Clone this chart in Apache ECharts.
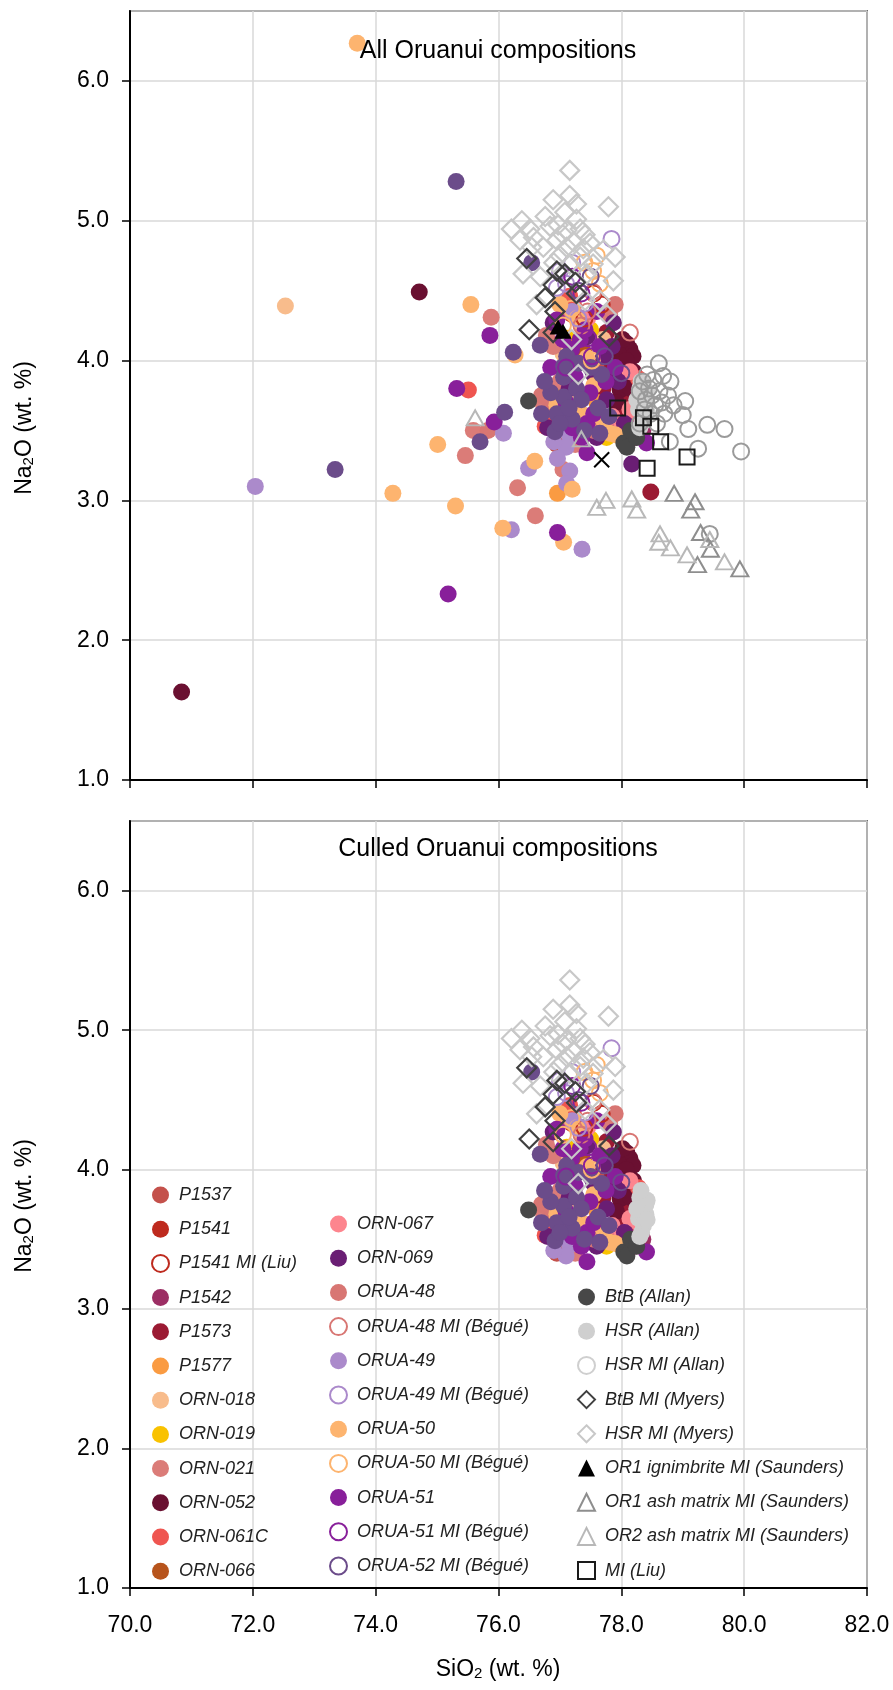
<!DOCTYPE html>
<html><head><meta charset="utf-8">
<script src="https://cdn.jsdelivr.net/npm/echarts@6/dist/echarts.min.js"></script>
<style>html,body{margin:0;padding:0;background:#fff}#c{width:893px;height:1690px}</style>
</head><body><div id="c"></div>
<script>
// ---------- data: [SiO2, Na2O] ; *_core appear in both panels, *_out only in the "All" panel ----------
const P1537_core = [[76.85,4.12],[77.60,3.95],[76.95,3.40],[77.35,4.10]];
const P1541_core = [[77.20,4.33],[77.05,3.60],[78.00,3.75]];
const P1541MI_core = [[77.55,4.48],[77.40,4.30],[77.68,4.40]];
const P1542_core = [[78.17,3.53],[78.30,3.58],[78.05,3.62],[78.22,3.45],[77.92,3.55],[78.35,3.50]];
const P1573_core = [[77.76,4.20],[77.98,4.03],[77.95,3.66],[78.10,3.70],[77.85,3.95],[78.25,3.75],[77.70,3.80]];
const P1573_out = [[78.48,3.06]];
const P1577_core = [[77.35,3.60],[77.60,3.70]];
const P1577_out = [[76.96,3.05]];
const ORN018_core = [[77.25,3.75],[77.70,4.15],[77.05,4.05]];
const ORN018_out = [[72.53,4.39]];
const ORN019_core = [[77.11,4.16],[77.33,4.00],[77.76,3.45],[77.95,3.47],[76.95,3.78],[77.50,4.22]];
const ORN021_core = [[76.78,4.18],[76.89,4.10],[76.73,3.69],[77.81,4.33],[77.25,3.40],[77.00,3.85]];
const ORN021_out = [[75.88,4.31],[75.46,3.32],[75.59,3.50],[76.31,3.09],[76.60,2.89],[77.05,3.22]];
const ORN052_core = [[78.09,4.12],[78.14,4.08],[78.19,4.03],[77.98,3.79],[78.05,3.95],[78.12,3.88],[77.95,4.05],[78.20,3.92],[78.08,4.00],[77.90,3.90],[78.15,3.80],[78.02,4.15],[77.92,3.70],[77.80,4.08]];
const ORN052_out = [[74.71,4.49],[70.84,1.63]];
const ORN061C_core = [[77.16,4.46],[76.76,3.53],[78.28,3.87],[77.22,4.40],[76.80,3.57],[78.32,3.60],[77.08,4.36]];
const ORN061C_out = [[75.51,3.79]];
const ORN066_core = [[77.40,4.05],[77.15,3.50]];
const ORN067_core = [[78.14,3.92],[78.14,3.65],[78.28,3.62],[77.85,3.60],[77.45,4.30],[77.70,3.50],[78.00,3.52]];
const ORN069_core = [[76.89,4.27],[77.44,4.17],[77.87,4.27],[77.71,4.03],[77.76,3.72],[77.55,3.90],[77.30,3.62],[77.95,3.85],[77.15,3.80],[77.60,3.45],[78.05,3.55],[77.85,4.10],[77.20,3.95],[76.80,3.52]];
const ORN069_out = [[78.17,3.26]];
const ORUA48_core = [[76.82,3.65],[77.55,3.50],[76.70,3.75],[77.90,4.40]];
const ORUA48_out = [[75.83,3.50]];
const ORUA48MI_core = [[77.54,4.49],[78.14,4.20],[77.45,4.35],[77.35,4.25]];
const ORUA49_core = [[77.16,3.46],[77.10,3.38],[76.90,3.42],[77.05,3.55],[77.30,3.50],[77.20,4.35]];
const ORUA49_out = [[72.04,3.10],[76.08,3.48],[76.49,3.23],[76.96,3.30],[77.16,3.21],[77.11,3.12],[76.21,2.79],[77.36,2.65]];
const ORUA49MI_core = [[77.84,4.87],[77.00,4.64],[77.41,4.41],[77.10,4.55],[77.30,4.30],[77.20,4.70],[76.95,4.52]];
const ORUA50_core = [[77.38,4.24],[77.44,4.02],[77.35,3.62],[77.90,3.47],[77.81,3.48],[77.00,4.40],[77.15,3.58],[76.95,3.68],[77.55,3.82],[77.28,4.30],[77.70,3.58]];
const ORUA50_out = [[73.70,6.27],[75.55,4.40],[75.01,3.40],[74.28,3.05],[75.30,2.96],[76.07,2.80],[77.06,2.70],[76.59,3.28],[77.20,3.08],[76.27,4.04]];
const ORUA50MI_core = [[77.54,4.64],[77.19,4.37],[77.52,4.00],[77.60,4.75],[77.05,4.25],[77.65,4.55],[77.40,4.70]];
const ORUA51_core = [[76.95,4.29],[77.33,4.15],[77.19,4.08],[77.65,4.10],[77.49,3.77],[77.44,3.55],[77.44,3.34],[78.41,3.41],[77.25,3.88],[77.10,3.70],[77.55,3.62],[76.85,3.95],[77.35,3.45],[77.75,3.85],[77.05,4.15],[77.60,4.35],[77.20,3.52],[77.90,3.95],[77.41,4.22]];
const ORUA51_out = [[75.86,4.18],[75.32,3.80],[75.93,3.56],[75.18,2.33],[76.96,2.77]];
const ORUA51MI_core = [[77.46,4.16],[77.52,4.03],[77.35,4.48],[77.20,4.60],[77.10,3.95]];
const ORUA52_core = [[76.70,3.62],[76.68,4.11],[76.92,3.49],[76.95,3.62],[77.06,3.74],[77.27,3.80],[77.06,3.88],[77.68,3.90],[77.62,3.66],[77.65,3.48],[77.11,4.03],[77.06,3.96],[77.20,3.58],[77.35,3.72],[76.85,3.77],[77.00,3.55],[77.50,3.95],[77.30,3.98],[76.75,3.85],[77.15,3.66],[77.80,3.60],[76.54,4.70],[77.40,3.50]];
const ORUA52_out = [[75.31,5.28],[73.34,3.22],[76.24,4.06],[76.10,3.63],[75.70,3.42]];
const ORUA52MI_core = [[77.73,4.03],[78.00,3.91],[77.30,4.50],[77.50,4.60]];
const BtBAllan_core = [[76.49,3.71],[78.04,3.41],[78.09,3.38],[78.15,3.50],[78.25,3.45]];
const HSRAllan_core = [[78.30,3.80],[78.35,3.70],[78.40,3.75],[78.28,3.65],[78.42,3.78],[78.36,3.60],[78.32,3.85],[78.40,3.68],[78.25,3.72],[78.33,3.55],[78.42,3.64],[78.30,3.52]];
const HSRMIAllan_out = [[78.61,3.98],[78.52,3.86],[78.68,3.89],[78.76,3.75],[79.04,3.71],[79.00,3.61],[79.09,3.51],[79.40,3.54],[79.68,3.51],[79.25,3.37],[79.95,3.35],[78.79,3.42],[79.44,2.76],[78.45,3.80],[78.40,3.72],[78.55,3.68],[78.62,3.78],[78.48,3.62],[78.70,3.62],[78.35,3.85],[78.58,3.55],[78.80,3.85],[78.50,3.75],[78.42,3.90],[78.66,3.70],[78.38,3.65],[78.30,3.78],[78.85,3.68],[78.30,3.55]];
const HSRMIMyers_core = [[77.16,5.36],[76.89,5.15],[77.16,5.18],[77.27,5.12],[76.76,5.03],[77.08,5.06],[76.21,4.94],[76.38,5.00],[76.51,4.94],[76.35,4.86],[76.57,4.88],[76.97,4.97],[77.33,4.94],[77.41,4.90],[76.73,4.81],[77.11,4.81],[77.49,4.84],[77.71,4.79],[76.54,4.81],[76.95,4.86],[77.33,4.74],[76.40,4.62],[76.68,4.60],[77.16,4.69],[77.54,4.69],[77.87,4.57],[76.62,4.40],[77.44,4.62],[77.11,4.93],[76.84,4.96],[77.27,5.01],[77.65,4.43],[77.41,4.43],[77.19,4.15],[77.30,3.90],[77.76,4.33],[77.00,4.75],[77.22,4.85],[76.90,4.70],[77.05,4.90],[77.38,4.80],[77.79,5.10],[77.90,4.74]];
const BtBMIMyers_core = [[76.46,4.73],[76.95,4.64],[77.08,4.62],[77.25,4.56],[76.89,4.54],[77.27,4.48],[76.76,4.45],[76.92,4.35],[76.50,4.22],[76.89,4.20],[77.80,4.17]];
const OR1ign_out = [[76.97,4.24],[77.05,4.21]];
const OR1ash_out = [[78.86,3.05],[79.13,2.93],[79.29,2.77],[79.45,2.65],[79.24,2.54],[79.93,2.51],[79.20,2.99]];
const OR2ash_out = [[75.62,3.59],[77.35,3.44],[77.60,2.95],[77.75,3.00],[78.17,3.01],[78.25,2.93],[78.63,2.76],[78.61,2.70],[78.80,2.66],[79.07,2.61],[79.44,2.72],[79.68,2.56]];
const MILiu_out = [[77.94,3.66],[78.36,3.59],[78.48,3.53],[78.64,3.42],[78.42,3.23],[79.07,3.31]];
const cross_out = [[77.68,3.29]];

const panelTitles = ['All Oruanui compositions', 'Culled Oruanui compositions'];
const legendCol1 = ['P1537','P1541','P1541 MI (Liu)','P1542','P1573','P1577','ORN-018','ORN-019','ORN-021','ORN-052','ORN-061C','ORN-066'];
const legendCol2 = ['ORN-067','ORN-069','ORUA-48','ORUA-48 MI (Bégué)','ORUA-49','ORUA-49 MI (Bégué)','ORUA-50','ORUA-50 MI (Bégué)','ORUA-51','ORUA-51 MI (Bégué)','ORUA-52 MI (Bégué)'];
const legendCol3 = ['BtB (Allan)','HSR (Allan)','HSR MI (Allan)','BtB MI (Myers)','HSR MI (Myers)','OR1 ignimbrite MI (Saunders)','OR1 ash matrix MI (Saunders)','OR2 ash matrix MI (Saunders)','MI (Liu)'];

// ---------- series definitions (drawing order) ----------
const defs = [
  {name:'P1537', kind:'dot', color:'#C4514B', core:P1537_core, out:[]},
  {name:'P1541', kind:'dot', color:'#BE2A1E', core:P1541_core, out:[]},
  {name:'P1542', kind:'dot', color:'#9C2E64', core:P1542_core, out:[]},
  {name:'P1573', kind:'dot', color:'#9B1A33', core:P1573_core, out:P1573_out},
  {name:'P1577', kind:'dot', color:'#FA9B42', core:P1577_core, out:P1577_out},
  {name:'ORN-018', kind:'dot', color:'#F8BC8C', core:ORN018_core, out:ORN018_out},
  {name:'ORN-019', kind:'dot', color:'#F9C200', core:ORN019_core, out:[]},
  {name:'ORN-021', kind:'dot', color:'#DB7C78', core:ORN021_core, out:ORN021_out},
  {name:'ORN-052', kind:'dot', color:'#6A1031', core:ORN052_core, out:ORN052_out},
  {name:'ORN-061C', kind:'dot', color:'#EF5550', core:ORN061C_core, out:ORN061C_out},
  {name:'ORN-066', kind:'dot', color:'#B7541C', core:ORN066_core, out:[]},
  {name:'ORN-067', kind:'dot', color:'#FD858E', core:ORN067_core, out:[]},
  {name:'ORN-069', kind:'dot', color:'#6A1E74', core:ORN069_core, out:ORN069_out},
  {name:'ORUA-48', kind:'dot', color:'#D87673', core:ORUA48_core, out:ORUA48_out},
  {name:'ORUA-49', kind:'dot', color:'#AB8ACB', core:ORUA49_core, out:ORUA49_out},
  {name:'ORUA-50', kind:'dot', color:'#FDB46F', core:ORUA50_core, out:ORUA50_out},
  {name:'ORUA-51', kind:'dot', color:'#881F9A', core:ORUA51_core, out:ORUA51_out},
  {name:'ORUA-52', kind:'dot', color:'#6B4C8A', core:ORUA52_core, out:ORUA52_out},
  {name:'BtB (Allan)', kind:'dot', color:'#484848', core:BtBAllan_core, out:[]},
  {name:'HSR (Allan)', kind:'dot', color:'#CFCFCF', core:HSRAllan_core, out:[]},
  {name:'P1541 MI (Liu)', kind:'ring', color:'#BE2A1E', core:P1541MI_core, out:[]},
  {name:'ORUA-48 MI (Bégué)', kind:'ring', color:'#D87673', core:ORUA48MI_core, out:[]},
  {name:'ORUA-49 MI (Bégué)', kind:'ring', color:'#AB8ACB', core:ORUA49MI_core, out:[]},
  {name:'ORUA-50 MI (Bégué)', kind:'ring', color:'#FDB46F', core:ORUA50MI_core, out:[]},
  {name:'ORUA-51 MI (Bégué)', kind:'ring', color:'#881F9A', core:ORUA51MI_core, out:[]},
  {name:'ORUA-52 MI (Bégué)', kind:'ring', color:'#6B4C8A', core:ORUA52MI_core, out:[]},
  {name:'HSR MI (Allan)', kind:'ring', color:'#9A9A9A', core:[], out:HSRMIAllan_out},
  {name:'HSR MI (Myers)', kind:'diamond', color:'#C8C8C8', core:HSRMIMyers_core, out:[]},
  {name:'BtB MI (Myers)', kind:'diamond', color:'#404040', core:BtBMIMyers_core, out:[]},
  {name:'OR1 ignimbrite MI (Saunders)', kind:'tri', color:'#000000', core:[], out:OR1ign_out},
  {name:'OR1 ash matrix MI (Saunders)', kind:'tri-o', color:'#8E8E8E', core:[], out:OR1ash_out},
  {name:'OR2 ash matrix MI (Saunders)', kind:'tri-o', color:'#B8B8B8', core:[], out:OR2ash_out},
  {name:'MI (Liu)', kind:'square', color:'#1A1A1A', core:[], out:MILiu_out},
  {name:'cross', kind:'cross', color:'#000000', core:[], out:cross_out}
];

function styleFor(d){
  const clear = 'rgba(255,255,255,0)';
  switch(d.kind){
    case 'dot': return {symbol:'circle', symbolSize:17, itemStyle:{color:d.color, opacity:1}};
    case 'ring': return {symbol:'circle', symbolSize:16, itemStyle:{color:clear, borderColor:d.color, borderWidth:2, opacity:1}};
    case 'diamond': return {symbol:'diamond', symbolSize:19, itemStyle:{color:clear, borderColor:d.color, borderWidth:2.2, opacity:1}};
    case 'tri': return {symbol:'triangle', symbolSize:[17,15], itemStyle:{color:d.color, opacity:1}};
    case 'tri-o': return {symbol:'triangle', symbolSize:[17,15], itemStyle:{color:clear, borderColor:d.color, borderWidth:2, opacity:1}};
    case 'square': return {symbol:'rect', symbolSize:15, itemStyle:{color:clear, borderColor:d.color, borderWidth:2, opacity:1}};
    case 'cross': return {symbol:'path://M0,0L10,10M10,0L0,10', symbolSize:15, itemStyle:{color:clear, borderColor:d.color, borderWidth:2, opacity:1}};
  }
}

const series = [];
[0,1].forEach(function(g){
  defs.forEach(function(d){
    const data = g === 0 ? d.core.concat(d.out) : d.core;
    const s = Object.assign({type:'scatter', name:d.name, xAxisIndex:g, yAxisIndex:g, data:data, silent:true, z:2}, styleFor(d));
    series.push(s);
  });
});

const FONT = '"Liberation Sans", Arial, sans-serif';
const G = [{left:130, top:11, width:737, height:769}, {left:130, top:821, width:737, height:767}];

function xAx(i){
  return {type:'value', gridIndex:i, min:70, max:82, interval:2,
    axisLine:{show:true, onZero:false, lineStyle:{color:'#000', width:2}},
    axisTick:{show:true, length:8, lineStyle:{color:'#000', width:1.5}},
    splitLine:{show:true, lineStyle:{color:'#D9D9D9', width:1.5}},
    axisLabel:{show:i===1, margin:26, fontSize:23, color:'#000', fontFamily:FONT, formatter:function(v){return v.toFixed(1);}}};
}
function yAx(i){
  return {type:'value', gridIndex:i, min:1, max:6.5, interval:1,
    axisLine:{show:true, onZero:false, lineStyle:{color:'#000', width:2}},
    axisTick:{show:true, length:8, lineStyle:{color:'#000', width:1.5}},
    splitLine:{show:true, lineStyle:{color:'#D9D9D9', width:1.5}},
    axisLabel:{margin:21, fontSize:23, color:'#000', fontFamily:FONT, showMaxLabel:false,
      formatter:function(v){return v > 6.01 ? '' : v.toFixed(1);}}};
}

const hsrLegendStyle = {borderColor:'#CFCFCF'};
function legend(names, left, top){
  return {orient:'vertical', left:left, top:top, padding:0, itemGap:14.2, itemWidth:17, itemHeight:17,
    selectedMode:false,
    textStyle:{fontSize:18, fontStyle:'italic', color:'#222', fontFamily:FONT, lineHeight:20, padding:[0,0,0,5]},
    data:names.map(function(n){ return n === 'HSR MI (Allan)' ? {name:n, itemStyle:hsrLegendStyle} : {name:n}; })};
}

function nameText(x, y, rot, main, sub, rest){
  return {type:'text', x:x, y:y, rotation:rot, z:100,
    style:{text:main + '{s|' + sub + '}' + rest, fontSize:23, fontFamily:FONT, fill:'#000',
      align:'center', verticalAlign:'middle',
      rich:{s:{fontSize:15, fontFamily:FONT, verticalAlign:'bottom', lineHeight:14}}}};
}

const option = {
  animation:false,
  backgroundColor:'#fff',
  grid:G.map(function(g){return Object.assign({show:true, borderColor:'#000', borderWidth:1.5, backgroundColor:'transparent'}, g);}),
  xAxis:[xAx(0), xAx(1)],
  yAxis:[yAx(0), yAx(1)],
  legend:[legend(legendCol1, 151, 1185), legend(legendCol2, 329, 1214), legend(legendCol3, 577, 1287)],
  graphic:[
    {type:'text', x:498, y:51, z:100, style:{text:panelTitles[0], fontSize:25, fontFamily:FONT, fill:'#000', align:'center', verticalAlign:'middle'}},
    {type:'text', x:498, y:849, z:100, style:{text:panelTitles[1], fontSize:25, fontFamily:FONT, fill:'#000', align:'center', verticalAlign:'middle'}},
    nameText(25, 428, Math.PI/2, 'Na', '2', 'O (wt. %)'),
    nameText(25, 1206, Math.PI/2, 'Na', '2', 'O (wt. %)'),
    nameText(498, 1670, 0, 'SiO', '2', ' (wt. %)')
  ],
  series:series
};

const chart = echarts.init(document.getElementById('c'), null, {renderer:'canvas'});
chart.setOption(option);
</script></body></html>
